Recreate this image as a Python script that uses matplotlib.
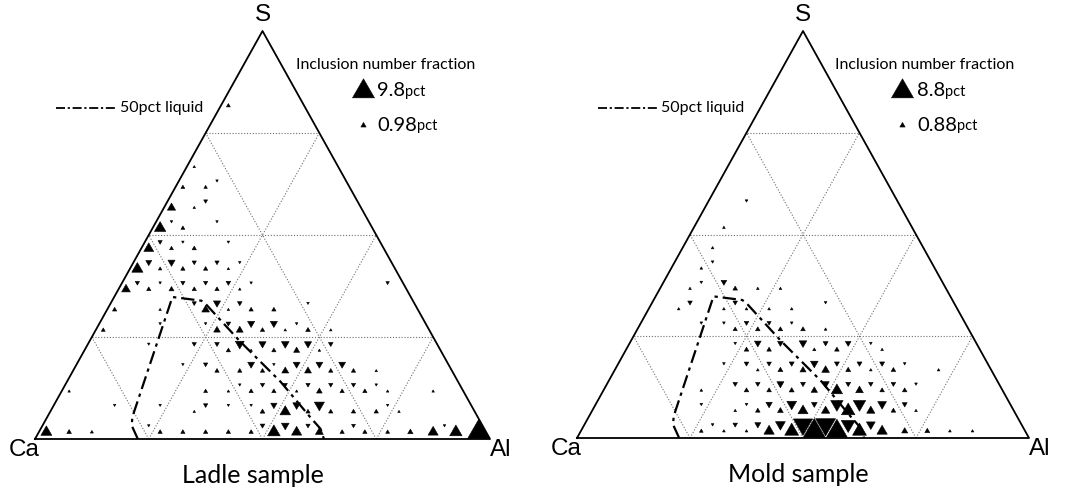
import numpy as np
import matplotlib.pyplot as plt
from matplotlib.path import Path

# ternary bins: 20 divisions, cells given as (S bin, Al bin, pct)
N_DIV = 20
GRID = [0.25, 0.5, 0.75]

ladle_up = [
    (0, 0, 3.2), (0, 1, 0.8), (0, 2, 0.4), (0, 5, 0.7), (0, 6, 0.7), (0, 7, 0.7), (0, 8, 0.7), (0, 9, 0.7),
    (0, 10, 4.0), (0, 11, 2.8), (0, 12, 1.9), (0, 13, 0.7), (0, 14, 0.7), (0, 15, 0.6), (0, 16, 1.0),
    (0, 17, 2.8), (0, 18, 3.9), (0, 19, 9.8),
    (1, 6, 0.3), (1, 9, 0.8), (1, 10, 3.0), (1, 11, 0.7), (1, 12, 0.7), (1, 13, 0.7), (1, 14, 0.7), (1, 15, 0.3),
    (2, 0, 0.3), (2, 6, 0.6), (2, 7, 0.3), (2, 8, 0.7), (2, 9, 0.7), (2, 10, 0.3), (2, 11, 1.1), (2, 12, 0.7),
    (2, 13, 0.7), (2, 14, 0.3), (2, 16, 0.3),
    (3, 6, 0.7), (3, 7, 0.7), (3, 8, 0.7), (3, 9, 1.5), (3, 10, 1.5), (3, 11, 0.7), (3, 12, 0.7), (3, 13, 0.3),
    (4, 6, 0.7), (4, 7, 0.3), (4, 8, 0.7), (4, 9, 1.2), (4, 10, 0.3),
    (5, 0, 0.6), (5, 5, 1.4), (5, 6, 1.5), (5, 7, 0.7), (5, 8, 0.3), (5, 9, 0.8), (5, 10, 0.3),
    (6, 0, 0.7), (6, 2, 0.3), (6, 4, 1.8), (6, 5, 0.3), (6, 6, 0.7), (6, 7, 0.7),
    (7, 0, 2.2), (7, 1, 0.7), (7, 2, 0.9), (7, 3, 0.7), (7, 4, 0.7), (7, 5, 0.3),
    (8, 0, 3.3), (8, 1, 0.5), (8, 2, 0.7), (8, 3, 0.7), (8, 4, 0.3),
    (9, 0, 2.7), (9, 1, 0.6), (9, 2, 0.7),
    (10, 0, 3.4), (10, 1, 0.6),
    (11, 0, 2.0), (11, 1, 0.3),
    (12, 0, 0.6), (12, 1, 0.5),
    (13, 0, 0.3),
    (16, 0, 0.6),
]
ladle_down = [
    (0, 4, 0.3), (0, 9, 0.8), (0, 10, 1.8), (0, 11, 0.7), (0, 13, 0.6), (0, 17, 0.3),
    (1, 2, 0.3), (1, 4, 0.3), (1, 6, 0.7), (1, 7, 0.3), (1, 8, 0.3), (1, 9, 1.3), (1, 10, 1.8), (1, 11, 2.8), (1, 14, 0.3),
    (2, 7, 0.3), (2, 8, 0.7), (2, 9, 0.7), (2, 10, 0.7), (2, 11, 0.7), (2, 12, 0.7), (2, 13, 0.3),
    (3, 4, 0.3), (3, 5, 0.7), (3, 7, 1.5), (3, 8, 0.3), (3, 9, 1.5), (3, 10, 1.5), (3, 11, 1.5),
    (4, 2, 0.3), (4, 4, 0.7), (4, 5, 0.8), (4, 6, 2.3), (4, 7, 1.6), (4, 8, 1.8), (4, 9, 1.6), (4, 10, 0.8),
    (5, 2, 0.3), (5, 4, 0.3), (5, 5, 0.8), (5, 6, 1.6), (5, 7, 1.6), (5, 8, 0.3),
    (6, 3, 0.7), (6, 4, 1.6), (6, 5, 0.8), (6, 8, 0.3),
    (7, 0, 0.7), (7, 1, 0.3), (7, 2, 0.7), (7, 3, 0.7), (7, 4, 0.8), (7, 5, 0.3), (7, 11, 0.5),
    (8, 0, 1.2), (8, 1, 1.6), (8, 2, 0.7), (8, 3, 0.7), (8, 4, 0.3),
    (9, 0, 0.7), (9, 1, 0.3), (9, 3, 0.3),
    (10, 0, 0.3), (10, 2, 0.3),
    (11, 1, 0.6),
    (12, 1, 0.3),
]

mold_up = [
    (0, 5, 0.5), (0, 6, 0.3), (0, 7, 0.3), (0, 8, 2.6), (0, 9, 4.2), (0, 10, 8.8), (0, 11, 8.0), (0, 12, 4.2),
    (0, 13, 2.6), (0, 14, 1.1), (0, 15, 0.8), (0, 16, 0.3), (0, 17, 0.3),
    (1, 6, 0.3), (1, 7, 0.7), (1, 8, 1.0), (1, 9, 2.5), (1, 10, 1.8), (1, 11, 4.0), (1, 12, 1.8), (1, 13, 0.7), (1, 14, 0.3),
    (2, 4, 0.3), (2, 6, 0.7), (2, 7, 0.7), (2, 8, 0.8), (2, 9, 1.2), (2, 10, 3.0), (2, 11, 1.6), (2, 12, 0.7), (2, 13, 0.7),
    (3, 6, 0.3), (3, 7, 0.8), (3, 8, 1.1), (3, 9, 1.6), (3, 10, 0.8), (3, 11, 0.3), (3, 12, 0.7), (3, 14, 0.3),
    (4, 5, 0.7), (4, 6, 0.7), (4, 8, 0.4), (4, 9, 0.7), (4, 11, 0.3),
    (5, 4, 0.6), (5, 5, 0.7), (5, 6, 0.7), (5, 7, 0.7), (5, 8, 0.3),
    (6, 1, 0.3), (6, 3, 0.3), (6, 4, 0.3), (6, 5, 0.3), (6, 6, 0.3),
    (7, 1, 0.3), (7, 3, 0.7), (7, 4, 0.3), (7, 5, 0.3),
    (8, 1, 0.3),
    (9, 1, 0.3),
    (10, 1, 0.3),
]
mold_down = [
    (0, 5, 0.3), (0, 6, 0.7), (0, 7, 1.1), (0, 8, 2.4), (0, 9, 7.0), (0, 10, 7.5), (0, 11, 4.2), (0, 12, 2.0),
    (1, 4, 0.3), (1, 6, 0.3), (1, 7, 1.2), (1, 8, 2.4), (1, 9, 1.0), (1, 10, 3.5), (1, 11, 3.5), (1, 12, 2.0), (1, 13, 0.8),
    (2, 5, 0.7), (2, 6, 0.7), (2, 7, 1.4), (2, 8, 0.8), (2, 9, 1.5), (2, 10, 0.8), (2, 11, 0.7), (2, 12, 0.7), (2, 13, 0.3),
    (3, 4, 0.3), (3, 5, 0.7), (3, 6, 0.7), (3, 7, 0.8), (3, 8, 1.6), (3, 9, 0.8), (3, 10, 0.8), (3, 11, 0.8), (3, 12, 0.3),
    (4, 4, 0.3), (4, 5, 1.3), (4, 6, 1.0), (4, 7, 1.6), (4, 8, 0.8), (4, 9, 1.0), (4, 10, 0.3),
    (5, 2, 0.3), (5, 3, 0.3), (5, 4, 0.7), (5, 5, 0.6), (5, 6, 0.3),
    (6, 1, 0.7), (6, 3, 0.7), (6, 7, 0.3),
    (7, 1, 0.3), (7, 2, 1.0),
    (8, 1, 0.3),
    (11, 1, 0.3),
]

# 50pct liquid boundary (Al fraction, S fraction)
liquid_al = [0.226, 0.196, 0.187, 0.128, 0.136, 0.196, 0.207, 0.33, 0.47, 0.58, 0.615, 0.635]
liquid_s = [0.0, 0.033, 0.054, 0.348, 0.347, 0.339, 0.333, 0.24, 0.14, 0.052, 0.025, 0.0]

DPI = 100
r3 = np.sqrt(3)
UP = Path([(0, 1 / r3), (-0.5, -0.5 / r3), (0.5, -0.5 / r3), (0, 1 / r3)],
          [Path.MOVETO, Path.LINETO, Path.LINETO, Path.CLOSEPOLY])
DOWN = Path([(0, -1 / r3), (-0.5, 0.5 / r3), (0.5, 0.5 / r3), (0, -1 / r3)],
            [Path.MOVETO, Path.LINETO, Path.LINETO, Path.CLOSEPOLY])

TXT = ["Lato", "DejaVu Sans"]
LBL = ["Liberation Sans", "DejaVu Sans"]


def tern(al, s):
    al = np.asarray(al, float)
    s = np.asarray(s, float)
    return al + s / 2, s


def marker_area(pct, ref):
    side_px = 22 * (np.asarray(pct, float) / ref) ** 0.62
    ms = side_px * 72 / DPI * 2 / r3
    return ms ** 2


def draw_cells(ax, cells, up, ref):
    k = np.array([c[0] for c in cells], float)
    j = np.array([c[1] for c in cells], float)
    pct = [c[2] for c in cells]
    off = 1 / 3 if up else 2 / 3
    x, y = tern((j + off) / N_DIV, (k + off) / N_DIV)
    ax.scatter(x, y, s=marker_area(pct, ref), marker=UP if up else DOWN,
               c="black", edgecolors="black", linewidths=0.4, zorder=3)


def draw_panel(ax, up_cells, down_cells, big, small, title, title_x):
    ax.set_xlim(0, 1)
    ax.set_ylim(0, 1)
    ax.axis("off")

    # dotted grid
    for t in GRID:
        for a, b in [((0, t), (1 - t, t)), ((t, 0), (t, 1 - t)), ((1 - t, 0), (0, 1 - t))]:
            x, y = tern([a[0], b[0]], [a[1], b[1]])
            ax.plot(x, y, color="#707070", lw=0.8, ls=(0, (1, 1.6)), zorder=1)
    x, y = tern([0, 1, 0, 0], [0, 0, 1, 0])
    ax.plot(x, y, color="black", lw=1.3, zorder=2, clip_on=False)

    draw_cells(ax, up_cells, True, big)
    draw_cells(ax, down_cells, False, big)

    x, y = tern(liquid_al, liquid_s)
    ax.plot(x, y, color="black", lw=1.6, ls=(0, (6, 2.2, 1.5, 2.2)), zorder=4)

    # corner labels
    ax.text(0.5, 1.039, "S", ha="center", va="center", fontsize=17.5, family=LBL)
    ax.text(-0.024, -0.026, "Ca", ha="center", va="center", fontsize=17.5, family=LBL)
    ax.text(1.023, -0.026, "Al", ha="center", va="center", fontsize=17.5, family=LBL)
    ax.text(title_x, -0.09, title, ha="center", va="center", fontsize=18, family=TXT)

    # liquid line legend
    ax.plot([0.047, 0.178], [0.811, 0.811], color="black", lw=1.3,
            ls=(0, (5, 1.5, 1.2, 1.5)), clip_on=False)
    ax.text(0.186, 0.811, "50pct liquid", ha="left", va="center", fontsize=11.5, family=TXT)

    # size legend
    ax.text(0.77, 0.917, "Inclusion number fraction", ha="center", va="center",
            fontsize=11.5, family=TXT)
    for val, yy in [(big, 0.853), (small, 0.769)]:
        lx, ly = 0.72, yy
        ax.scatter([lx], [ly], s=marker_area([val], big), marker=UP, c="black",
                   edgecolors="black", linewidths=0.4, clip_on=False)
        t = ax.text(0.752, ly, f"{val:g}", ha="left", va="center", fontsize=14.5, family=TXT)
        ax.annotate("pct", xy=(1, 0.02), xycoords=t, ha="left", va="bottom",
                    fontsize=10.5, family=TXT)


fig = plt.figure(figsize=(10.72, 4.91), dpi=DPI)
ax1 = fig.add_axes([35 / 1072, 52 / 491, 455 / 1072, 408 / 491])
ax2 = fig.add_axes([577 / 1072, 53 / 491, 452 / 1072, 407 / 491])

draw_panel(ax1, ladle_up, ladle_down, 9.8, 0.98, "Ladle sample", 0.479)
draw_panel(ax2, mold_up, mold_down, 8.8, 0.88, "Mold sample", 0.49)

fig.savefig("out.png", dpi=DPI)
